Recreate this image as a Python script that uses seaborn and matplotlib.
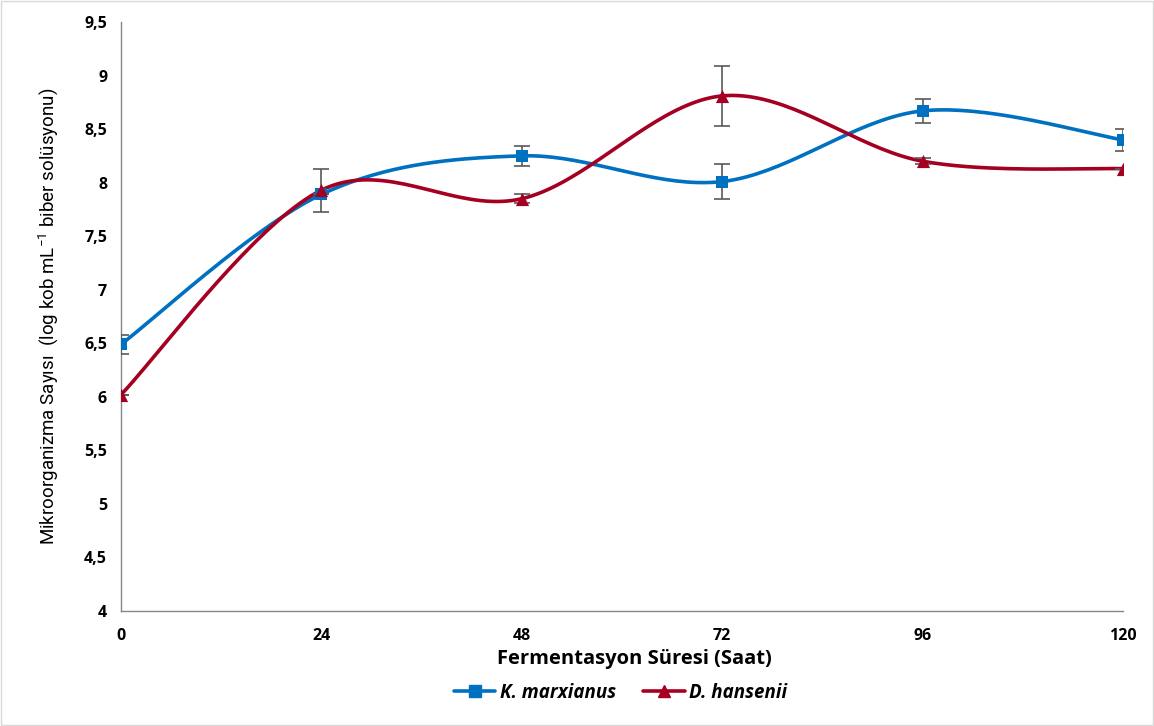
import numpy as np
import pandas as pd
import matplotlib
matplotlib.use("Agg")
import matplotlib.pyplot as plt
import seaborn as sns
from matplotlib.lines import Line2D
from matplotlib.patches import Rectangle

hours = [0, 24, 48, 72, 96, 120]
k_marx = [6.49, 7.89, 8.25, 8.01, 8.67, 8.40]
k_marx_err = [0.09, 0.0, 0.09, 0.16, 0.11, 0.10]
d_hans = [6.02, 7.93, 7.85, 8.81, 8.20, 8.13]
d_hans_err = [0.0, 0.20, 0.04, 0.28, 0.03, 0.0]
series_names = ["K. marxianus", "D. hansenii"]
colors = ["#0070C0", "#A50021"]
yticks = [4, 4.5, 5, 5.5, 6, 6.5, 7, 7.5, 8, 8.5, 9, 9.5]


def smooth(x, y, n=40):
    # Excel-style smoothing (Catmull-Rom cubic Bezier)
    x = np.asarray(x, float); y = np.asarray(y, float)
    P = np.column_stack([x, y])
    out = []
    for i in range(len(P) - 1):
        p0 = P[i - 1] if i > 0 else P[i]
        p1 = P[i]; p2 = P[i + 1]
        p3 = P[i + 2] if i + 2 < len(P) else P[i + 1]
        c1 = p1 + (p2 - p0) / 6.0
        c2 = p2 - (p3 - p1) / 6.0
        t = np.linspace(0, 1, n)[:, None]
        seg = (1 - t) ** 3 * p1 + 3 * (1 - t) ** 2 * t * c1 + 3 * (1 - t) * t ** 2 * c2 + t ** 3 * p2
        out.append(seg if i == 0 else seg[1:])
    s = np.vstack(out)
    return s[:, 0], s[:, 1]


sns.set_theme(style="white")
plt.rcParams['font.family'] = ['Open Sans', 'DejaVu Sans']
plt.rcParams['text.color'] = 'black'
plt.rcParams['axes.labelcolor'] = 'black'
plt.rcParams['xtick.color'] = 'black'
plt.rcParams['ytick.color'] = 'black'

fig = plt.figure(figsize=(11.54, 7.26), dpi=100)
ax = fig.add_axes([121 / 1154, 1 - 611 / 726, (1123 - 121) / 1154, (611 - 22) / 726])
fig.patches.append(Rectangle((0.001, 0.001), 0.998, 0.998, transform=fig.transFigure,
                             fill=False, edgecolor="#D9D9D9", linewidth=1))

markers = ["s", "^"]
for name, vals, errs, col, mk in zip(series_names, [k_marx, d_hans], [k_marx_err, d_hans_err], colors, markers):
    sx, sy = smooth(hours, vals)
    sm = pd.DataFrame({"x": sx, "y": sy})
    sns.lineplot(data=sm, x="x", y="y", color=col, linewidth=2.6, ax=ax, sort=False)
    ax.errorbar(hours, vals, yerr=errs, fmt="none", ecolor="#595959", elinewidth=1.2,
                capsize=6, capthick=1.2, zorder=3)
    df = pd.DataFrame({"x": hours, "y": vals})
    sns.scatterplot(data=df, x="x", y="y", marker=mk, color=col, s=80 if mk == "s" else 90,
                    edgecolor=col, linewidth=0, ax=ax, zorder=4)

ax.set_xlim(0, 120)
ax.set_ylim(4, 9.5)
ax.set_xticks(hours)
ax.set_yticks(yticks)
ax.set_yticklabels([("%g" % v).replace(".", ",") for v in yticks])
for lab in ax.get_xticklabels() + ax.get_yticklabels():
    lab.set_fontfamily(['Open Sans', 'DejaVu Sans'])
    lab.set_fontweight("bold")
    lab.set_fontsize(11.5)
ax.tick_params(axis="both", direction="out", length=6, width=1, color="#868686", pad=4)
ax.tick_params(axis="x", pad=6)
for s in ["top", "right"]:
    ax.spines[s].set_visible(False)
for s in ["left", "bottom"]:
    ax.spines[s].set_color("#868686")
    ax.spines[s].set_linewidth(1)

ax.set_xlabel("Fermentasyon Süresi (Saat)", fontsize=14.5, fontweight="bold",
              family=['Open Sans', 'DejaVu Sans'])
ax.xaxis.set_label_coords((634 - 121) / 1002, -0.065)
ax.set_ylabel("Mikroorganizma Sayısı  (log kob mL$^{\\mathregular{-1}}$ biber solüsyonu)",
              fontsize=13.5, family=['Roboto', 'DejaVu Sans'], labelpad=17)

handles = [Line2D([0], [0], color=c, linewidth=2.6, marker=m, markersize=8)
           for c, m in zip(colors, markers)]
leg = fig.legend(handles, series_names, loc="center", bbox_to_anchor=(0.538, 1 - 693 / 726),
                 ncol=2, frameon=False, handlelength=2.2, handletextpad=0.25, columnspacing=1.45,
                 prop={"weight": "bold", "style": "italic", "size": 13.5,
                       "family": ['Open Sans', 'DejaVu Sans']})

fig.savefig("out.png", dpi=100)
